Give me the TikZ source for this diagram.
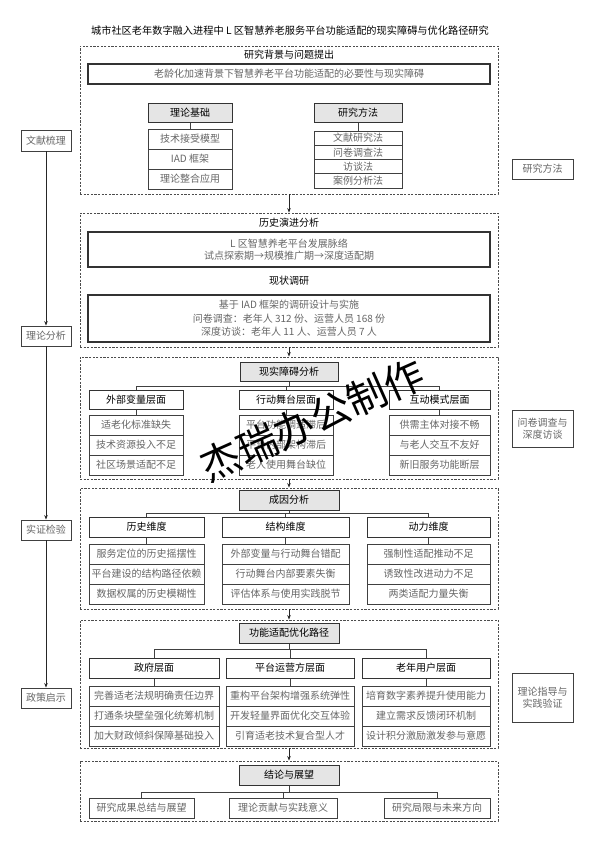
\documentclass[tikz,border=0pt]{standalone}
\usepackage{fontspec}
\newfontfamily\cjk{Noto Sans CJK SC}
\usetikzlibrary{arrows.meta}
\newcommand\bx[6]{\node[#1, minimum width=#4pt, minimum height=#5pt] (#2) at (#3) {#6};}
\begin{document}
\begin{tikzpicture}[x=1pt,y=-1pt,
  base/.style={inner sep=0pt, align=center, font=\cjk\fontsize{10}{12.5}\selectfont},
  dbox/.style={draw=black!70, dash pattern=on 2.2pt off 1.4pt, line width=0.9pt},
  hdr/.style={base, draw=black!80, fill=black!10, line width=1pt},
  colh/.style={base, draw=black!80, fill=white, line width=1pt},
  itm/.style={base, draw=black!75, line width=0.8pt, text=black!60},
  wide/.style={base, draw=black!80, line width=1.1pt, text=black!60},
  side/.style={base, draw=black!75, line width=0.9pt, text=black!60},
  lbl/.style={base},
  arr/.style={-{Stealth[length=4.5pt,width=3.6pt]}, line width=0.8pt, draw=black!85},
  conn/.style={line width=0.8pt, draw=black!75}]
\useasboundingbox (0,0) rectangle (594,841);
\fill[white] (0,0) rectangle (594,841);

% title
\node[lbl, font=\cjk\fontsize{10.2}{12}\selectfont] (T) at (290,31) {城市社区老年数字融入进程中 L 区智慧养老服务平台功能适配的现实障碍与优化路径研究};

% dashed section boxes
\bx{dbox}{B1}{289,120}{418}{148}{}
\bx{dbox}{B2}{289,280}{418}{134}{}
\bx{dbox}{B3}{289,418}{418}{122}{}
\bx{dbox}{B4}{289,548.5}{418}{121}{}
\bx{dbox}{B5}{289,684}{418}{128}{}
\bx{dbox}{B6}{289,791}{418}{60}{}
\draw[arr] (B1.south) -- (B2.north);
\draw[arr] (B2.south) -- (B3.north);
\draw[arr] (B3.south) -- (B4.north);
\draw[arr] (B4.south) -- (B5.north);
\draw[arr] (B5.south) -- (B6.north);

% section 1
\node[lbl] (S1) at (289,55) {研究背景与问题提出};
\bx{wide}{W1}{289,74}{402}{20}{老龄化加速背景下智慧养老平台功能适配的必要性与现实障碍}
\bx{hdr}{A}{190,112.5}{84}{19}{理论基础}
\bx{itm}{A1}{190,139}{84}{20}{技术接受模型}
\bx{itm}{A2}{190,159}{84}{20}{IAD 框架}
\bx{itm}{A3}{190,179}{84}{20}{理论整合应用}
\draw[conn] (A.south) -- (A1.north);
\bx{hdr}{M}{358,112.5}{88}{19}{研究方法}
\bx{itm}{M1}{358,138.1}{88}{14.25}{文献研究法}
\bx{itm}{M2}{358,152.4}{88}{14.25}{问卷调查法}
\bx{itm}{M3}{358,166.6}{88}{14.25}{访谈法}
\bx{itm}{M4}{358,180.9}{88}{14.25}{案例分析法}
\draw[conn] (M.south) -- (M1.north);

% section 2
\node[lbl] (S2) at (289,223) {历史演进分析};
\bx{wide}{W2}{289,249.5}{402}{35}{L 区智慧养老平台发展脉络\\试点探索期→规模推广期→深度适配期}
\node[lbl] (S3) at (289,281) {现状调研};
\node[wide, minimum width=402pt, minimum height=47pt, font=\cjk\fontsize{10}{13.5}\selectfont] (W3) at (289,318.5) {基于 IAD 框架的调研设计与实施\\问卷调查：老年人 312 份、运营人员 168 份\\深度访谈：老年人 11 人、运营人员 7 人};

% section 3
\bx{hdr}{H3}{289,371.5}{98}{19}{现实障碍分析}
\bx{colh}{C31}{136,399.5}{94}{19}{外部变量层面}
\bx{colh}{C32}{286,399.5}{94}{19}{行动舞台层面}
\bx{colh}{C33}{439.5,399.5}{101}{19}{互动模式层面}
\coordinate (J3) at (289,386);
\draw[conn] (H3.south) -- (J3);
\draw[conn] (C31.north) -- (C31.north |- J3) -- (C33.north |- J3) -- (C33.north);
\draw[conn] (C32.north) -- (C32.north |- J3);
\bx{itm}{I311}{136,425}{94}{20}{适老化标准缺失}
\bx{itm}{I312}{136,445}{94}{20}{技术资源投入不足}
\bx{itm}{I313}{136,465}{94}{20}{社区场景适配不足}
\bx{itm}{I321}{286,425}{94}{20}{平台功能调适滞后}
\bx{itm}{I322}{286,445}{94}{20}{平台内部架构滞后}
\bx{itm}{I323}{286,465}{94}{20}{老人使用舞台缺位}
\bx{itm}{I331}{439.5,425}{101}{20}{供需主体对接不畅}
\bx{itm}{I332}{439.5,445}{101}{20}{与老人交互不友好}
\bx{itm}{I333}{439.5,465}{101}{20}{新旧服务功能断层}
\draw[conn] (C31.south) -- (I311.north);
\draw[conn] (C32.south) -- (I321.north);
\draw[conn] (C33.south) -- (I331.north);

% section 4
\bx{hdr}{H4}{289,500}{100}{20}{成因分析}
\bx{colh}{C41}{146.5,527}{115}{20}{历史维度}
\bx{colh}{C42}{285.5,527}{127}{20}{结构维度}
\bx{colh}{C43}{428.5,527}{123}{20}{动力维度}
\coordinate (J4) at (289,513);
\draw[conn] (H4.south) -- (J4);
\draw[conn] (C41.north) -- (C41.north |- J4) -- (C43.north |- J4) -- (C43.north);
\draw[conn] (C42.north) -- (C42.north |- J4);
\bx{itm}{I411}{146.5,554}{115}{20}{服务定位的历史摇摆性}
\bx{itm}{I412}{146.5,574}{115}{20}{平台建设的结构路径依赖}
\bx{itm}{I413}{146.5,594}{115}{20}{数据权属的历史模糊性}
\bx{itm}{I421}{285.5,554}{127}{20}{外部变量与行动舞台错配}
\bx{itm}{I422}{285.5,574}{127}{20}{行动舞台内部要素失衡}
\bx{itm}{I423}{285.5,594}{127}{20}{评估体系与使用实践脱节}
\bx{itm}{I431}{428.5,554}{123}{20}{强制性适配推动不足}
\bx{itm}{I432}{428.5,574}{123}{20}{诱致性改进动力不足}
\bx{itm}{I433}{428.5,594}{123}{20}{两类适配力量失衡}
\draw[conn] (C41.south) -- (I411.north);
\draw[conn] (C42.south) -- (I421.north);
\draw[conn] (C43.south) -- (I431.north);

% section 5
\bx{hdr}{H5}{289,633}{100}{20}{功能适配优化路径}
\bx{colh}{C51}{154,668}{130}{20}{政府层面}
\bx{colh}{C52}{290,668}{128}{20}{平台运营方层面}
\bx{colh}{C53}{426,668}{128}{20}{老年用户层面}
\coordinate (J5) at (289,649);
\draw[conn] (H5.south) -- (J5);
\draw[conn] (C51.north) -- (C51.north |- J5) -- (C53.north |- J5) -- (C53.north);
\draw[conn] (C52.north) -- (C52.north |- J5);
\bx{itm}{I511}{154,696}{130}{20}{完善适老法规明确责任边界}
\bx{itm}{I512}{154,716}{130}{20}{打通条块壁垒强化统筹机制}
\bx{itm}{I513}{154,736}{130}{20}{加大财政倾斜保障基础投入}
\bx{itm}{I521}{290,696}{128}{20}{重构平台架构增强系统弹性}
\bx{itm}{I522}{290,716}{128}{20}{开发轻量界面优化交互体验}
\bx{itm}{I523}{290,736}{128}{20}{引育适老技术复合型人才}
\bx{itm}{I531}{426,696}{128}{20}{培育数字素养提升使用能力}
\bx{itm}{I532}{426,716}{128}{20}{建立需求反馈闭环机制}
\bx{itm}{I533}{426,736}{128}{20}{设计积分激励激发参与意愿}
\draw[conn] (C51.south) -- (I511.north);
\draw[conn] (C52.south) -- (I521.north);
\draw[conn] (C53.south) -- (I531.north);

% section 6
\bx{hdr}{H6}{289,775}{100}{20}{结论与展望}
\bx{itm}{I61}{141.5,808}{105}{20}{研究成果总结与展望}
\bx{itm}{I62}{283,808}{108}{20}{理论贡献与实践意义}
\bx{itm}{I63}{437,808}{106}{20}{研究局限与未来方向}
\coordinate (J6) at (289,792);
\draw[conn] (H6.south) -- (J6);
\draw[conn] (I61.north) -- (I61.north |- J6) -- (I63.north |- J6) -- (I63.north);
\draw[conn] (I62.north) -- (I62.north |- J6);

% left column
\bx{side}{L1}{46,140.5}{50}{21}{文献梳理}
\bx{side}{L2}{46,336}{50}{20}{理论分析}
\bx{side}{L3}{46,530}{50}{20}{实证检验}
\bx{side}{L4}{46,698}{50}{20}{政策启示}
\draw[arr] (L1.south) -- (L2.north);
\draw[arr] (L2.south) -- (L3.north);
\draw[arr] (L3.south) -- (L4.north);

% right column
\bx{side}{R1}{542.5,169}{61}{20}{研究方法}
\bx{side}{R2}{542.5,428.5}{61}{37}{问卷调查与\\深度访谈}
\bx{side}{R3}{542.5,697.5}{61}{49}{理论指导与\\实践验证}

% watermark
\node[inner sep=0pt, font=\cjk\fontsize{40}{40}\selectfont, rotate=24] (WM) at (312,420) {杰瑞办公制作};
\end{tikzpicture}
\end{document}
